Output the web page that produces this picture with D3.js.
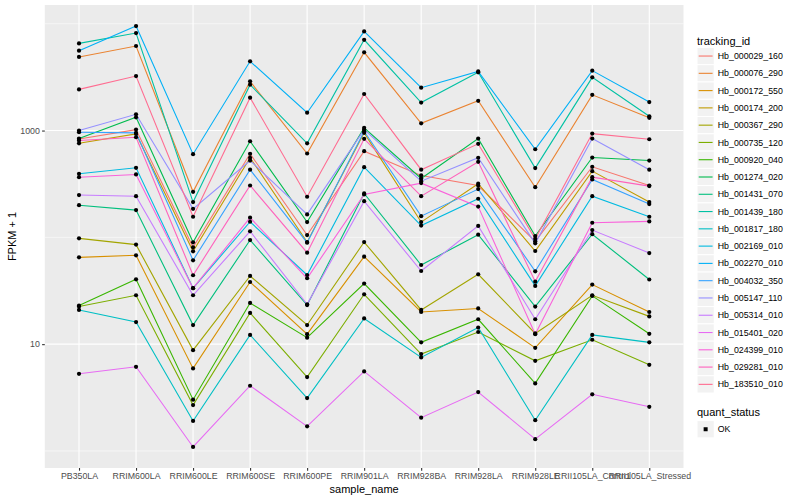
<!DOCTYPE html>
<html>
<head>
<meta charset="utf-8">
<script src="https://cdn.jsdelivr.net/npm/d3@7"></script>
<style>
  body { margin: 0; background: #fff; }
  svg { font-family: "Liberation Sans", Arial, sans-serif; }
</style>
</head>
<body>
<div id="chart"></div>
<script>
// samples on the x axis
const samples = ["PB350LA", "RRIM600LA", "RRIM600LE", "RRIM600SE", "RRIM600PE", "RRIM901LA",
  "RRIM928BA", "RRIM928LA", "RRIM928LE", "RRII105LA_Control", "RRII105LA_Stressed"];

const trackingIds = ["Hb_000029_160", "Hb_000076_290", "Hb_000172_550", "Hb_000174_200", "Hb_000367_290",
  "Hb_000735_120", "Hb_000920_040", "Hb_001274_020", "Hb_001431_070", "Hb_001439_180",
  "Hb_001817_180", "Hb_002169_010", "Hb_002270_010", "Hb_004032_350", "Hb_005147_110",
  "Hb_005314_010", "Hb_015401_020", "Hb_024399_010", "Hb_029281_010", "Hb_183510_010"];

// FPKM + 1, one array per gene, in sample order
const hb000029_160 = [833, 1021, 80.7, 606, 105, 641, 380, 306, 91.8, 458, 306];
const hb000076_290 = [4890, 6190, 267, 2890, 610, 5400, 1170, 1900, 295, 2160, 1315];
const hb000172_550 = [65.0, 67.9, 5.93, 38.2, 12.4, 66.0, 20.0, 21.6, 9.23, 36.1, 20.0];
const hb000174_200 = [760, 931, 74.0, 556, 90.4, 952, 139, 318, 74.5, 417, 214];
const hb000367_290 = [97.9, 85.5, 8.79, 43.5, 15.1, 90.4, 20.9, 45.1, 12.6, 28.7, 18.2];
const hb000735_120 = [22.5, 28.7, 2.69, 19.6, 4.92, 29.3, 8.07, 13.0, 6.98, 11.0, 6.41];
const hb000920_040 = [23.0, 40.5, 3.02, 24.3, 11.5, 36.9, 10.4, 17.1, 4.29, 28.3, 12.5];
const hb001274_020 = [842, 1331, 89.8, 794, 139, 1060, 356, 842, 103, 559, 524];
const hb001431_070 = [200, 180, 15.1, 94.4, 23.2, 258, 55.1, 106, 22.5, 107, 40.3];
const hb001439_180 = [6550, 8180, 214, 2690, 760, 7080, 1830, 3510, 445, 3150, 1360];
const hb001817_180 = [20.9, 16.1, 1.91, 12.2, 3.13, 17.4, 7.51, 14.3, 1.94, 12.2, 10.4];
const hb002169_010 = [394, 448, 33.4, 140, 44.4, 454, 129, 230, 35.1, 243, 156];
const hb002270_010 = [5600, 9520, 601, 4450, 1470, 8470, 2520, 3580, 668, 3640, 1850];
const hb004032_350 = [964, 952, 61.0, 430, 89.2, 985, 158, 283, 48.1, 348, 205];
const hb005147_110 = [1000, 1420, 185, 524, 164, 1021, 336, 556, 87.9, 842, 430];
const hb005314_010 = [249, 243, 28.7, 114, 23.6, 218, 48.4, 128, 17.1, 117, 71.3];
const hb015401_020 = [5.28, 6.14, 1.09, 4.08, 1.70, 5.56, 2.05, 3.56, 1.29, 3.39, 2.59];
const hb024399_010 = [366, 388, 33.4, 153, 41.4, 252, 322, 194, 12.4, 137, 141];
const hb029281_010 = [807, 866, 44.2, 306, 71.9, 836, 243, 510, 38.5, 366, 302];
const hb183510_010 = [2430, 3240, 156, 2030, 240, 2200, 430, 751, 97, 937, 829];

const seriesValues = [hb000029_160, hb000076_290, hb000172_550, hb000174_200, hb000367_290,
  hb000735_120, hb000920_040, hb001274_020, hb001431_070, hb001439_180,
  hb001817_180, hb002169_010, hb002270_010, hb004032_350, hb005147_110,
  hb005314_010, hb015401_020, hb024399_010, hb029281_010, hb183510_010];

const yTicks = [10, 1000];
const yMinor = [1, 100, 10000];

// ggplot default hue palette for 20 levels
const palette = ["#F8766D", "#EA8331", "#D89000", "#C09B00", "#A3A500", "#7CAE00", "#39B600",
  "#00BB4E", "#00BF7D", "#00C1A3", "#00BFC4", "#00BAE0", "#00B0F6", "#35A2FF", "#9590FF",
  "#C77CFF", "#E76BF3", "#FA62DB", "#FF62BC", "#FF6C91"];

const width = 800, height = 500;
const panel = { left: 44.8, right: 683.5, top: 5, bottom: 468 };

const svg = d3.select("#chart").append("svg")
  .attr("width", width).attr("height", height);

const series = trackingIds.map(function (id, i) {
  return { id: id, values: seriesValues[i].map(function (v, j) { return { sample: samples[j], value: v }; }) };
});

const color = d3.scaleOrdinal().domain(trackingIds).range(palette);

const x = d3.scalePoint().domain(samples)
  .range([panel.left, panel.right]).padding(0.6);

// log scale with 5% expansion like ggplot
const allVals = seriesValues.flat();
const lmin = Math.log10(d3.min(allVals)), lmax = Math.log10(d3.max(allVals));
const pad = (lmax - lmin) * 0.05;
const y = d3.scaleLog().domain([Math.pow(10, lmin - pad), Math.pow(10, lmax + pad)])
  .range([panel.bottom, panel.top]);

// panel background
svg.append("rect")
  .attr("x", panel.left).attr("y", panel.top)
  .attr("width", panel.right - panel.left).attr("height", panel.bottom - panel.top)
  .attr("fill", "#EBEBEB");

const grid = svg.append("g");
grid.selectAll("line.minor").data(yMinor).enter().append("line")
  .attr("x1", panel.left).attr("x2", panel.right)
  .attr("y1", function (d) { return y(d); }).attr("y2", function (d) { return y(d); })
  .attr("stroke", "#fff").attr("stroke-width", 0.55);
grid.selectAll("line.major").data(yTicks).enter().append("line")
  .attr("x1", panel.left).attr("x2", panel.right)
  .attr("y1", function (d) { return y(d); }).attr("y2", function (d) { return y(d); })
  .attr("stroke", "#fff").attr("stroke-width", 1.1);
grid.selectAll("line.vx").data(samples).enter().append("line")
  .attr("x1", function (d) { return x(d); }).attr("x2", function (d) { return x(d); })
  .attr("y1", panel.top).attr("y2", panel.bottom)
  .attr("stroke", "#fff").attr("stroke-width", 1.1);

const line = d3.line()
  .x(function (d) { return x(d.sample); })
  .y(function (d) { return y(d.value); });

svg.append("g").selectAll("path").data(series).enter().append("path")
  .attr("d", function (d) { return line(d.values); })
  .attr("fill", "none")
  .attr("stroke", function (d) { return color(d.id); })
  .attr("stroke-width", 1.1);

svg.append("g").selectAll("g").data(series).enter().append("g")
  .selectAll("circle").data(function (d) { return d.values; }).enter().append("circle")
  .attr("cx", function (d) { return x(d.sample); })
  .attr("cy", function (d) { return y(d.value); })
  .attr("r", 2.1)
  .attr("fill", "#000");

// axes
const xAxis = svg.append("g")
  .attr("transform", "translate(0," + panel.bottom + ")")
  .call(d3.axisBottom(x).tickSize(2.7).tickPadding(2.2));
const yAxis = svg.append("g")
  .attr("transform", "translate(" + panel.left + ",0)")
  .call(d3.axisLeft(y).tickValues(yTicks).tickFormat(d3.format("d")).tickSize(2.7).tickPadding(2.2));

[xAxis, yAxis].forEach(function (a) {
  a.select(".domain").remove();
  a.selectAll(".tick line").attr("stroke", "#333333").attr("stroke-width", 1.1);
  a.selectAll(".tick text").attr("fill", "#4D4D4D").style("font-size", "8.8px")
    .style("font-family", "'Liberation Sans', Arial, sans-serif");
});

svg.append("text")
  .attr("x", (panel.left + panel.right) / 2).attr("y", 493)
  .attr("text-anchor", "middle").style("font-size", "11px").attr("fill", "#000")
  .text("sample_name");

svg.append("text")
  .attr("transform", "translate(16," + (panel.top + panel.bottom) / 2 + ") rotate(-90)")
  .attr("text-anchor", "middle").style("font-size", "11px").attr("fill", "#000")
  .text("FPKM + 1");

// legend: tracking_id
const legX = 697, keySize = 17.28, legTop = 47.4;
const leg = svg.append("g");
leg.append("text").attr("x", legX).attr("y", 44.5)
  .style("font-size", "11px").text("tracking_id");

const item = leg.selectAll("g.item").data(trackingIds).enter().append("g")
  .attr("transform", function (d, i) { return "translate(" + legX + "," + (legTop + i * keySize) + ")"; });
item.append("rect").attr("width", keySize).attr("height", keySize)
  .attr("fill", "#F2F2F2").attr("stroke", "#fff").attr("stroke-width", 1);
item.append("line")
  .attr("x1", 1.7).attr("x2", keySize - 1.7)
  .attr("y1", keySize / 2).attr("y2", keySize / 2)
  .attr("stroke", function (d) { return color(d); }).attr("stroke-width", 1.1);
item.append("text")
  .attr("x", keySize + 3.5).attr("y", keySize / 2).attr("dy", "0.35em")
  .style("font-size", "8.8px").text(function (d) { return d; });

// legend: quant_status
leg.append("text").attr("x", legX).attr("y", 416)
  .style("font-size", "11px").text("quant_status");
const q = leg.append("g").attr("transform", "translate(" + legX + ",420.6)");
q.append("rect").attr("width", keySize).attr("height", keySize)
  .attr("fill", "#F2F2F2").attr("stroke", "#fff");
q.append("rect").attr("x", keySize / 2 - 2).attr("y", keySize / 2 - 2)
  .attr("width", 4).attr("height", 4).attr("fill", "#000");
q.append("text").attr("x", keySize + 3.5).attr("y", keySize / 2).attr("dy", "0.35em")
  .style("font-size", "8.8px").text("OK");
</script>
</body>
</html>
